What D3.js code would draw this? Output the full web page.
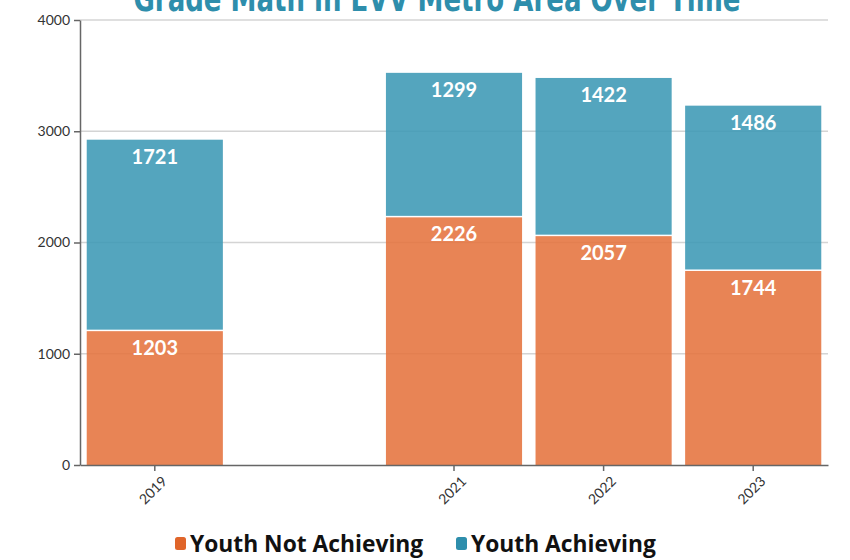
<!DOCTYPE html>
<html>
<head>
<meta charset="utf-8">
<script src="https://cdn.jsdelivr.net/npm/d3@7"></script>
<style>
  body { margin: 0; background: #fff; }
</style>
</head>
<body>
<svg id="mainsvg" width="850" height="560"></svg>
<script>
const years = ['2019', '2020', '2021', '2022', '2023']
const notAchieving = [1203, null, 2226, 2057, 1744]
const achieving = [1721, null, 1299, 1422, 1486]
const yTicks = [0, 1000, 2000, 3000, 4000]
const seriesNames = ['Youth Not Achieving', 'Youth Achieving']

const colors = {bar: ['#E5733D', '#3C99B5'], legend: ['#E0652A', '#2E8EAC']}
const margin = {left: 80, right: 22, top: 20, bottom: 95}
const width = 850, height = 560

const svg = d3.select('#mainsvg')

const x = d3.scaleBand()
  .domain(years)
  .range([margin.left, width - margin.right])
  .paddingInner(0.09)
  .paddingOuter(0.045)

const y = d3.scaleLinear()
  .domain([0, 4000])
  .range([height - margin.bottom, margin.top])

// grid
svg.append('g')
  .selectAll('line')
  .data(yTicks.filter(d => d > 0))
  .join('line')
  .attr('x1', margin.left)
  .attr('x2', width - margin.right)
  .attr('y1', d => y(d))
  .attr('y2', d => y(d))
  .attr('stroke', '#d4d4d4')
  .attr('stroke-width', 1.5)

// stacked bars
const rows = years.map((yr, i) => ({year: yr, a: notAchieving[i], b: achieving[i]}))
  .filter(d => d.a != null)

const bars = svg.append('g')
rows.forEach(d => {
  bars.append('rect')
    .attr('x', x(d.year))
    .attr('width', x.bandwidth())
    .attr('y', y(d.a))
    .attr('height', y(0) - y(d.a))
    .attr('fill', colors.bar[0])
    .attr('fill-opacity', 0.88)
  bars.append('rect')
    .attr('x', x(d.year))
    .attr('width', x.bandwidth())
    .attr('y', y(d.a + d.b))
    .attr('height', y(d.a) - y(d.a + d.b) - 1.5)
    .attr('fill', colors.bar[1])
    .attr('fill-opacity', 0.88)

  const cx = x(d.year) + x.bandwidth() / 2
  bars.append('text')
    .attr('x', cx)
    .attr('y', y(d.a + d.b) + 24)
    .text(d.b)
  bars.append('text')
    .attr('x', cx)
    .attr('y', y(d.a) + 24)
    .text(d.a)
})
bars.selectAll('text')
  .attr('text-anchor', 'middle')
  .attr('fill', '#fff')
  .attr('font-family', 'Lato, sans-serif')
  .attr('font-weight', 'bold')
  .attr('font-size', '20px')

// axes
const yAxis = svg.append('g')
  .attr('transform', `translate(${margin.left},0)`)
  .call(d3.axisLeft(y).tickValues(yTicks).tickFormat(d3.format('d')).tickSize(6).tickSizeOuter(0).tickPadding(4))
yAxis.selectAll('text').attr('font-size', '14px').attr('fill', '#333').attr('font-family', 'Lato, sans-serif')

const xAxis = svg.append('g')
  .attr('transform', `translate(0,${y(0)})`)
  .call(d3.axisBottom(x).tickValues(rows.map(d => d.year)).tickSize(6).tickSizeOuter(0))
xAxis.selectAll('text')
  .attr('font-size', '14px')
  .attr('fill', '#333')
  .attr('font-family', 'Lato, sans-serif')
  .attr('text-anchor', 'end')
  .attr('dx', '-0.2em')
  .attr('dy', '0.9em')
  .attr('transform', 'rotate(-45)')

svg.selectAll('.domain, .tick line').attr('stroke', '#666').attr('stroke-width', 1.5)

// title, cut off at top
svg.append('text')
  .attr('x', 437)
  .attr('y', 11)
  .attr('text-anchor', 'middle')
  .attr('fill', '#2E8EAC')
  .attr('font-family', '"DejaVu Sans Condensed", sans-serif')
  .attr('font-weight', 'bold')
  .attr('font-size', '36px')
  .attr('textLength', 607)
  .attr('lengthAdjust', 'spacingAndGlyphs')
  .text('Grade Math in EVV Metro Area Over Time')

// legend
const legend = svg.append('g')
const legendX = [175, 456]
seriesNames.forEach((name, i) => {
  legend.append('rect')
    .attr('x', legendX[i])
    .attr('y', 537)
    .attr('width', 11)
    .attr('height', 13)
    .attr('rx', 2.5)
    .attr('fill', colors.legend[i])
  legend.append('text')
    .attr('x', legendX[i] + 15)
    .attr('y', 552)
    .attr('font-family', '"Open Sans", sans-serif')
    .attr('font-weight', 'bold')
    .attr('font-size', '22.8px')
    .attr('fill', '#111')
    .text(name)
})
</script>
</body>
</html>
